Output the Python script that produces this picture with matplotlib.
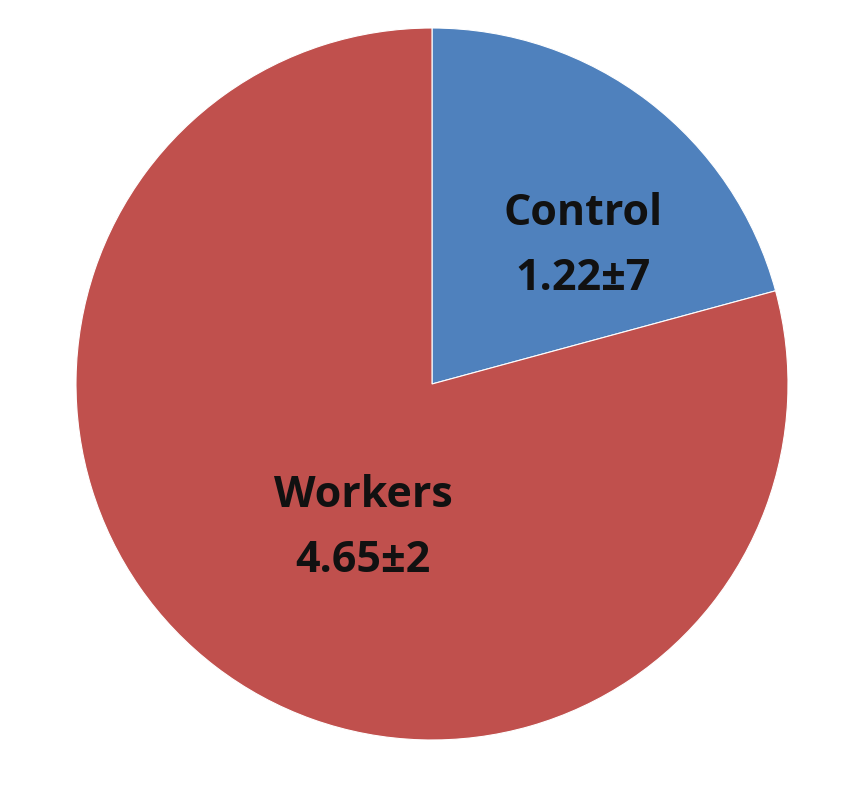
import matplotlib
matplotlib.use("Agg")
from matplotlib import pyplot as plt

# ------------------------------------------------------------------------------
# Data
# ------------------------------------------------------------------------------
labels = ["Control", "Workers"]
means = [1.22, 4.65]
errors = ["7", "2"]
colors = ["#4F81BD", "#C0504D"]

# ------------------------------------------------------------------------------
# Plot
# ------------------------------------------------------------------------------
fig = plt.figure(figsize=(8.67, 7.89), dpi=100)
W, H = 867.0, 789.0
cx, cy, r = 432.0, 384.0, 356.0
ax = fig.add_axes([(cx - r) / W, (H - cy - r) / H, 2 * r / W, 2 * r / H])

wedges, texts = ax.pie(means, colors=colors, startangle=90, counterclock=False,
                       radius=1.0, center=(0, 0),
                       wedgeprops=dict(edgecolor="white", linewidth=0.8))
ax.set_xlim(-1, 1)
ax.set_ylim(-1, 1)
ax.set_aspect("equal")
ax.axis("off")

# label positions (in pie radius units)
label_pos = [((583 - cx) / r, (cy - 246) / r), ((363 - cx) / r, (cy - 528) / r)]
for lab, m, e, (x, y) in zip(labels, means, errors, label_pos):
    ax.text(x, y, "%s\n%.2f\u00b1%s" % (lab, m, e), ha="center", va="center",
            fontsize=31, fontweight="bold", family="Open Sans", color="#111111",
            linespacing=1.65)

plt.savefig("out.png", dpi=100)
